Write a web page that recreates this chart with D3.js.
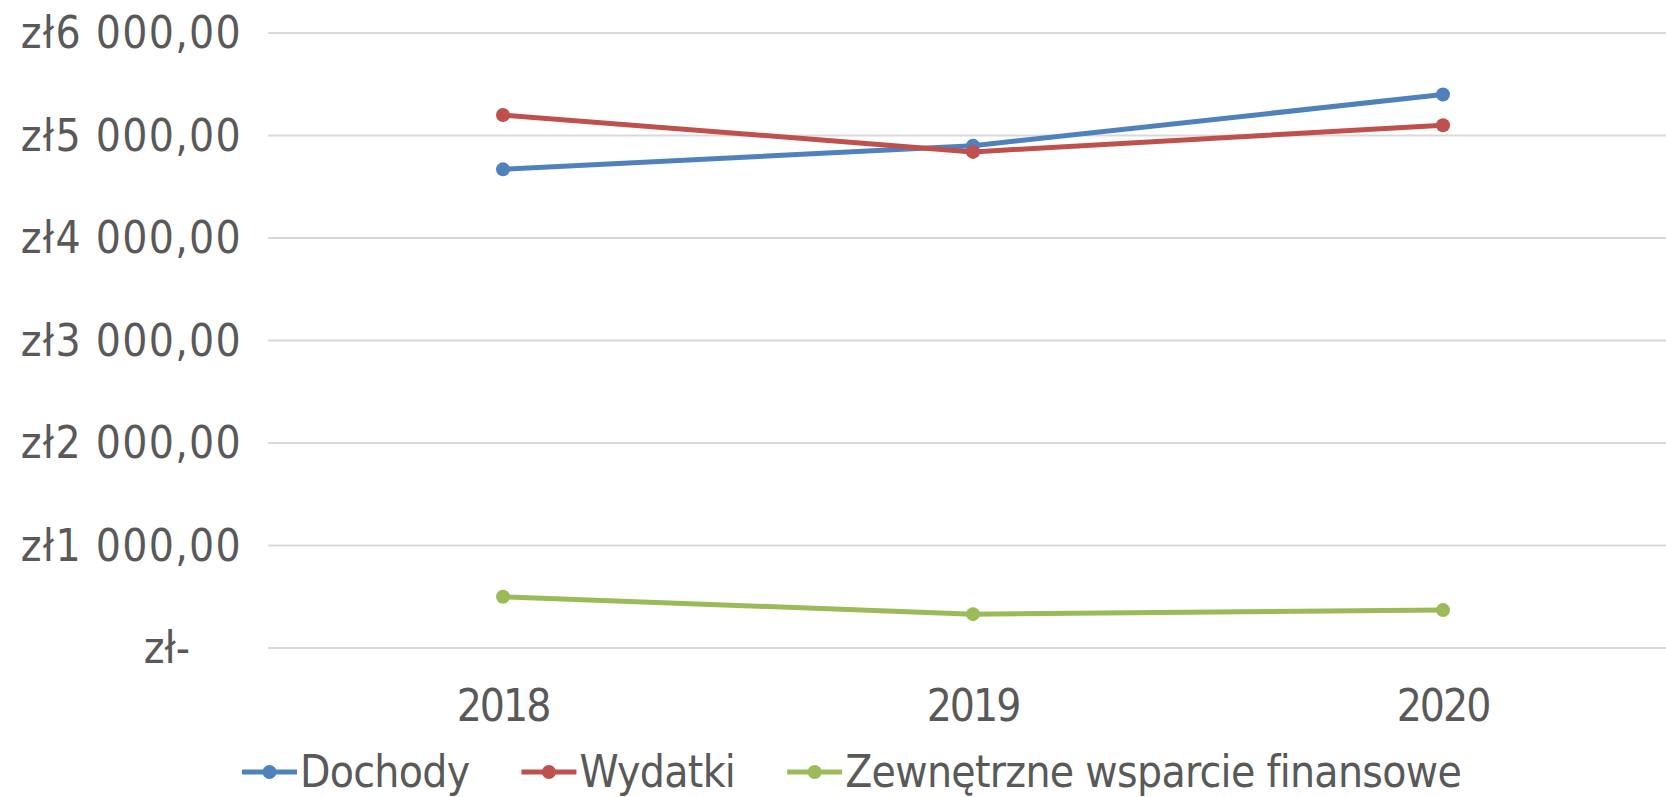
<!DOCTYPE html>
<html>
<head>
  <meta charset="utf-8">
  <script src="https://d3js.org/d3.v7.min.js"></script>
</head>
<style>
  body { margin: 0; background: #fff; }
  text { font-family: "DejaVu Sans Condensed", "DejaVu Sans", sans-serif; fill: #595959; }
</style>
<body>
  <svg width="1666" height="797"></svg>
  <script>
    // chart data
    const years = ['2018', '2019', '2020'];
    const dochody = [4670, 4900, 5400];
    const wydatki = [5200, 4840, 5100];
    const wsparcie = [500, 330, 370];
    const seriesNames = ['Dochody', 'Wydatki', 'Zewnętrzne wsparcie finansowe'];
    const yTicks = [0, 1000, 2000, 3000, 4000, 5000, 6000];

    const colors = ['#4F81BD', '#C0504D', '#9BBB59'];
    const series = [dochody, wydatki, wsparcie].map((v, i) => ({name: seriesNames[i], values: v, color: colors[i]}));

    const margin = {top: 33, left: 268, bottom: 149};
    const W = 1666, H = 797;
    const plotRight = 1678;

    const svg = d3.select('svg');

    const x = d3.scalePoint()
      .domain(years)
      .range([margin.left, plotRight])
      .padding(0.5);

    const y = d3.scaleLinear()
      .domain([0, 6000])
      .range([H - margin.bottom, margin.top]);

    const fmt = v => v === 0 ? 'zł-' : 'zł' + d3.format(',.2f')(v).replace(/,/g, ' ').replace('.', ',');

    // gridlines
    svg.append('g')
      .selectAll('line')
      .data(yTicks)
      .join('line')
      .attr('x1', margin.left)
      .attr('x2', W)
      .attr('y1', d => y(d))
      .attr('y2', d => y(d))
      .attr('stroke', '#D9D9D9')
      .attr('stroke-width', 2);

    // y labels
    svg.append('g')
      .selectAll('text')
      .data(yTicks)
      .join('text')
      .attr('x', d => d === 0 ? 190 : 242)
      .attr('y', d => y(d))
      .attr('dy', '0.35em')
      .attr('text-anchor', 'end')
      .style('font-size', '44px')
      .style('letter-spacing', d => d === 0 ? '0px' : '1.3px')
      .text(fmt);

    // x labels
    svg.append('g')
      .selectAll('text')
      .data(years)
      .join('text')
      .attr('x', d => x(d))
      .attr('y', 721)
      .attr('text-anchor', 'middle')
      .style('font-size', '44px')
      .style('letter-spacing', '-2px')
      .text(d => d);

    const line = d3.line()
      .x((d, i) => x(years[i]))
      .y(d => y(d));

    const g = svg.append('g')
      .selectAll('g')
      .data(series)
      .join('g');

    g.append('path')
      .attr('d', d => line(d.values))
      .attr('fill', 'none')
      .attr('stroke', d => d.color)
      .attr('stroke-width', 5)
      .attr('stroke-linejoin', 'round');

    g.selectAll('circle')
      .data(d => d.values.map((v, i) => ({v, i, color: d.color})))
      .join('circle')
      .attr('cx', d => x(years[d.i]))
      .attr('cy', d => y(d.v))
      .attr('r', 7)
      .attr('fill', d => d.color);

    // legend
    const legend = svg.append('g').attr('transform', 'translate(0,772)');
    let lx = 242;
    series.forEach(s => {
      const item = legend.append('g').attr('transform', `translate(${lx},0)`);
      item.append('line')
        .attr('x1', 0).attr('x2', 55)
        .attr('y1', 0).attr('y2', 0)
        .attr('stroke', s.color).attr('stroke-width', 5);
      item.append('circle')
        .attr('cx', 27.5).attr('cy', 0).attr('r', 7).attr('fill', s.color);
      const t = item.append('text')
        .attr('x', 58)
        .attr('dy', '0.35em')
        .style('font-size', '44px')
        .style('letter-spacing', '-0.7px')
        .text(s.name);
      lx += 58 + t.node().getComputedTextLength() + 52;
    });
  </script>
</body>
</html>
